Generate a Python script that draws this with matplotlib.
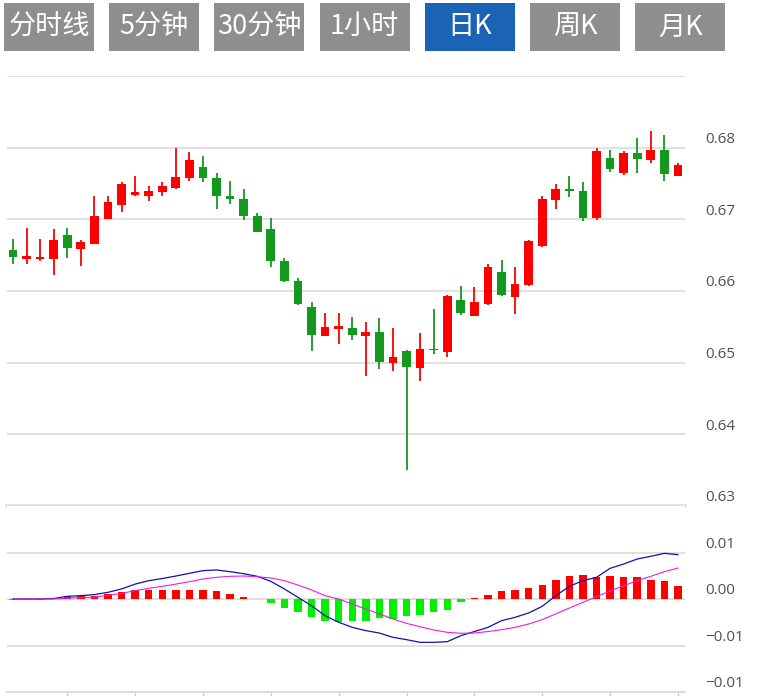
"""K线图 + MACD 复刻"""
import matplotlib as mpl
mpl.use('Agg')
import matplotlib.pyplot as plt
from matplotlib.patches import Rectangle
import numpy as np

plt.rcParams['font.family'] = ['Noto Sans CJK SC', 'DejaVu Sans']

# ── 数据 ──
BUTTONS = ['分时线', '5分钟', '30分钟', '1小时', '日K', '周K', '月K']
ACTIVE = '日K'

opens = [0.6657, 0.6645, 0.6644, 0.6644, 0.6678, 0.6658, 0.6665, 0.6701, 0.6720, 0.6734,
         0.6732, 0.6738, 0.6744, 0.6758, 0.6773, 0.6758, 0.6733, 0.6728, 0.6704, 0.6687,
         0.6642, 0.6614, 0.6577, 0.6537, 0.6547, 0.6548, 0.6537, 0.6543, 0.6499, 0.6516,
         0.6493, 0.6519, 0.6515, 0.6587, 0.6565, 0.6582, 0.6627, 0.6591, 0.6608, 0.6663,
         0.6727, 0.6742, 0.6740, 0.6702, 0.6785, 0.6765, 0.6792, 0.6783, 0.6797, 0.6760]
highs = [0.6673, 0.6688, 0.6673, 0.6686, 0.6688, 0.6671, 0.6733, 0.6732, 0.6752, 0.6761,
         0.6747, 0.6752, 0.6799, 0.6794, 0.6789, 0.6764, 0.6754, 0.6743, 0.6709, 0.6702,
         0.6646, 0.6618, 0.6584, 0.6569, 0.6569, 0.6564, 0.6557, 0.6562, 0.6548, 0.6518,
         0.6542, 0.6575, 0.6595, 0.6607, 0.6605, 0.6637, 0.6643, 0.6634, 0.6671, 0.6733,
         0.6749, 0.6761, 0.6752, 0.6799, 0.6797, 0.6795, 0.6813, 0.6823, 0.6817, 0.6778]
lows = [0.6637, 0.6637, 0.6642, 0.6622, 0.6646, 0.6635, 0.6665, 0.6700, 0.6710, 0.6732,
        0.6725, 0.6732, 0.6742, 0.6754, 0.6752, 0.6715, 0.6722, 0.6699, 0.6682, 0.6634,
        0.6613, 0.6581, 0.6516, 0.6537, 0.6526, 0.6531, 0.6481, 0.6491, 0.6489, 0.6350,
        0.6474, 0.6512, 0.6508, 0.6567, 0.6565, 0.6580, 0.6593, 0.6568, 0.6607, 0.6662,
        0.6714, 0.6731, 0.6697, 0.6699, 0.6766, 0.6762, 0.6765, 0.6779, 0.6753, 0.6760]
closes = [0.6648, 0.6649, 0.6647, 0.6671, 0.6660, 0.6668, 0.6704, 0.6724, 0.6749, 0.6738,
          0.6740, 0.6747, 0.6759, 0.6783, 0.6758, 0.6732, 0.6728, 0.6705, 0.6683, 0.6642,
          0.6614, 0.6582, 0.6538, 0.6550, 0.6551, 0.6538, 0.6543, 0.6501, 0.6508, 0.6494,
          0.6519, 0.6517, 0.6593, 0.6570, 0.6584, 0.6634, 0.6594, 0.6610, 0.6670, 0.6728,
          0.6743, 0.6739, 0.6702, 0.6796, 0.6770, 0.6793, 0.6784, 0.6797, 0.6763, 0.6776]

macd_hist = [-0.0001, -0.0001, -0.0001, 0.0, 0.00029, 0.00036, 0.00036, 0.00057, 0.00072, 0.0010,
             0.0010, 0.0010, 0.0010, 0.0010, 0.0010, 0.00086, 0.00057, 0.00021, 0.0, -0.00043,
             -0.0010, -0.0014, -0.00197, -0.00233, -0.00244, -0.00233, -0.00233, -0.00206, -0.0021, -0.0018,
             -0.00168, -0.0014, -0.00113, -0.00033, 0.00006, 0.00047, 0.00086, 0.0010, 0.00115, 0.00154,
             0.00208, 0.00244, 0.00258, 0.00237, 0.00244, 0.00233, 0.00233, 0.00208, 0.00194, 0.00136]
dif = [0.0, 0.0, 0.0, 0.00005, 0.00029, 0.00036, 0.00047, 0.00072, 0.00108, 0.0016,
       0.00197, 0.0022, 0.00247, 0.00276, 0.00305, 0.00312, 0.00294, 0.00272, 0.00244, 0.0019,
       0.00108, 0.00018, -0.00072, -0.0018, -0.0025, -0.00305, -0.0034, -0.00366, -0.00412, -0.00437,
       -0.00466, -0.00466, -0.00459, -0.00394, -0.0035, -0.00305, -0.00233, -0.00197, -0.0015, -0.00079,
       0.00036, 0.00136, 0.00197, 0.00233, 0.0033, 0.00376, 0.0043, 0.00459, 0.00491, 0.00477]
dea = [0.0, 0.0, 0.0, 0.0, 0.0001, 0.00015, 0.0002, 0.0004, 0.0006, 0.0009,
       0.00115, 0.00136, 0.0016, 0.00186, 0.00215, 0.00233, 0.00244, 0.00247, 0.0024, 0.00226,
       0.00197, 0.0015, 0.00097, 0.00036, 0.0, -0.00054, -0.00108, -0.0016, -0.00215, -0.00262,
       -0.00298, -0.00333, -0.00358, -0.00369, -0.00366, -0.0035, -0.0033, -0.00305, -0.00269, -0.00222,
       -0.0016, -0.00097, -0.00036, 0.00025, 0.00086, 0.00143, 0.00197, 0.00244, 0.00294, 0.00333]

price_ticks = [0.68, 0.67, 0.66, 0.65, 0.64, 0.63]
macd_ticks = [0.005, 0.0, -0.005, -0.01]

# ── 样式 ──
UP, DOWN = '#FF0000', '#14991F'
H_UP, H_DOWN = '#FF0000', '#00F000'
GRID = '#DDDDDD'
LABEL = '#505050'

W, H = 759, 696
fig = plt.figure(figsize=(W / 100, H / 100), dpi=100)


def fx(px):
    return px / W


def fy(py):
    return 1 - py / H


# 顶部按钮
for k, name in enumerate(BUTTONS):
    x0 = 4 + k * 105.2
    face = '#1A63B5' if name == ACTIVE else '#8E8E8E'
    fig.add_artist(Rectangle((fx(x0), fy(51)), 90 / W, 48 / H,
                             transform=fig.transFigure, color=face, lw=0))
    fig.text(fx(x0 + 45), fy(27), name, color='white', fontsize=19.5,
             ha='center', va='center')

x = np.arange(len(opens))
xlim = (-0.44, len(opens) - 1 + 0.52)

# ── K 线 ──
ax = fig.add_axes([fx(7), fy(506), fx(685) - fx(7), fy(76) - fy(506)])
ax.set_xlim(*xlim)
ax.set_ylim(0.63, 0.69)
ax.set_axis_off()
for v in [0.64, 0.65, 0.66, 0.67, 0.68, 0.69]:
    ax.axhline(v, color=GRID, lw=1.3, zorder=0)
ax.axhline(0.63, color='#E0E0E0', lw=2.6, zorder=0, clip_on=False)

o, c = np.array(opens), np.array(closes)
colors = [UP if cc >= oo else DOWN for oo, cc in zip(o, c)]
ax.vlines(x, lows, highs, colors=colors, lw=1.3, zorder=2)
body = np.maximum(np.abs(c - o), 0.00018)
ax.bar(x, body, bottom=np.minimum(o, c), width=0.64, color=colors,
       lw=0, zorder=3)

for v in price_ticks:
    ax.annotate(f'{v:.2f}', xy=(1, v), xycoords=('axes fraction', 'data'),
                xytext=(14.5, 5.8), textcoords='offset points',
                ha='left', va='center', fontsize=11, color=LABEL,
                family=['Open Sans', 'DejaVu Sans'], annotation_clip=False)

# ── MACD ──
ax2 = fig.add_axes([fx(7), fy(692), fx(685) - fx(7), fy(506) - fy(692)])
ax2.set_xlim(*xlim)
ax2.set_ylim(-0.01, 0.01)
for s in ['top', 'left', 'right']:
    ax2.spines[s].set_visible(False)
ax2.spines['bottom'].set_color('#DDDDDD')
ax2.spines['bottom'].set_linewidth(1.5)
ax2.set_yticks([])
ax2.set_xticks(x[4::5])
ax2.tick_params(axis='x', length=5, width=1, color='#C5CFDD', labelbottom=False)
for v in [0.005, 0.0, -0.005]:
    ax2.axhline(v, color=GRID, lw=1.3, zorder=0)

hist = np.array(macd_hist)
ax2.bar(x, hist, width=0.55, color=[H_UP if h > 0 else H_DOWN for h in hist],
        lw=0, zorder=2)
ax2.plot(x, dif, color='#1111AA', lw=0.9, zorder=3)
ax2.plot(x, dea, color='#E81EE8', lw=0.8, zorder=3)

for v in macd_ticks:
    ax2.annotate(f'{v:.2f}'.replace('-', '\u2212'), xy=(1, v),
                 xycoords=('axes fraction', 'data'),
                 xytext=(14.5, 5.8), textcoords='offset points',
                 ha='left', va='center', fontsize=11, color=LABEL,
                 family=['Open Sans', 'DejaVu Sans'], annotation_clip=False)

fig.savefig('out.png', dpi=100)
